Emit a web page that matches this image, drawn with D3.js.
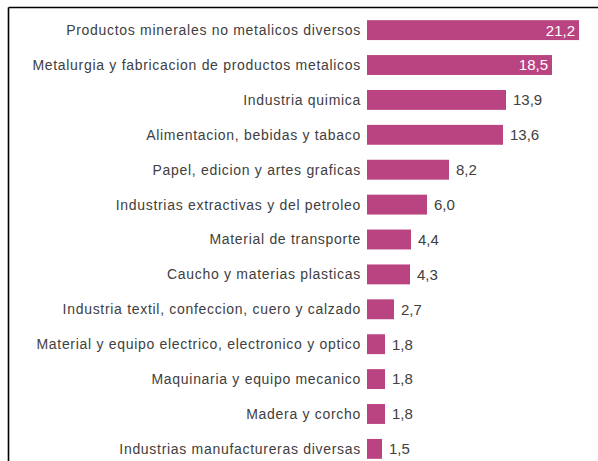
<!DOCTYPE html>
<html>
<head>
<meta charset="utf-8">
<script src="https://cdn.jsdelivr.net/npm/d3@7"></script>
<style>
  html, body { margin: 0; padding: 0; background: #fff; }
  svg { display: block; }
</style>
</head>
<body>
<svg id="chart" width="598" height="461"></svg>
<script>
// Sectors and their shares (%)
const sectors = [
  "Productos minerales no metalicos diversos",
  "Metalurgia y fabricacion de productos metalicos",
  "Industria quimica",
  "Alimentacion, bebidas y tabaco",
  "Papel, edicion y artes graficas",
  "Industrias extractivas y del petroleo",
  "Material de transporte",
  "Caucho y materias plasticas",
  "Industria textil, confeccion, cuero y calzado",
  "Material y equipo electrico, electronico y optico",
  "Maquinaria y equipo mecanico",
  "Madera y corcho",
  "Industrias manufactureras diversas"
];
const shares = [21.2, 18.5, 13.9, 13.6, 8.2, 6.0, 4.4, 4.3, 2.7, 1.8, 1.8, 1.8, 1.5];

const svg = d3.select("#chart");
const W = 598, H = 461;
const barColor = "#ba4382";

// frame: top and left rule
svg.append("line").attr("x1", 8.5).attr("x2", W).attr("y1", 7.5).attr("y2", 7.5)
  .attr("stroke", "#000").attr("stroke-width", 1.6);
svg.append("line").attr("x1", 8.5).attr("x2", 8.5).attr("y1", 7.5).attr("y2", H)
  .attr("stroke", "#000").attr("stroke-width", 1.6);

const x0 = 367;
const x = d3.scaleLinear().domain([0, 21.2]).range([x0, x0 + 212]);
const y = d3.scaleBand().domain(sectors).range([12.5, 466.5]).paddingInner(0.43).paddingOuter(0.22);

const fmt = v => d3.format(".1f")(v).replace(".", ",");

const rows = svg.append("g").selectAll("g")
  .data(sectors.map((s, i) => ({ s, v: shares[i] })))
  .join("g");

rows.append("rect")
  .attr("x", x(0))
  .attr("y", d => y(d.s))
  .attr("width", d => x(d.v) - x(0))
  .attr("height", y.bandwidth())
  .attr("fill", barColor);

rows.append("text")
  .attr("x", x0 - 6)
  .attr("y", d => y(d.s) + y.bandwidth() / 2)
  .attr("dy", "0.35em")
  .attr("text-anchor", "end")
  .attr("font-family", "'Liberation Sans', Arial, sans-serif")
  .attr("font-size", 14)
  .attr("letter-spacing", 0.7)
  .attr("fill", "#404040")
  .text(d => d.s);

rows.append("text")
  .attr("x", d => d.v > 15 ? x(d.v) - 4 : x(d.v) + 7)
  .attr("y", d => y(d.s) + y.bandwidth() / 2)
  .attr("dy", "0.36em")
  .attr("text-anchor", d => d.v > 15 ? "end" : "start")
  .attr("font-family", "'Liberation Sans', Arial, sans-serif")
  .attr("font-size", 15)
  .attr("fill", d => d.v > 15 ? "#fff" : "#404040")
  .text(d => fmt(d.v));
</script>
</body>
</html>
